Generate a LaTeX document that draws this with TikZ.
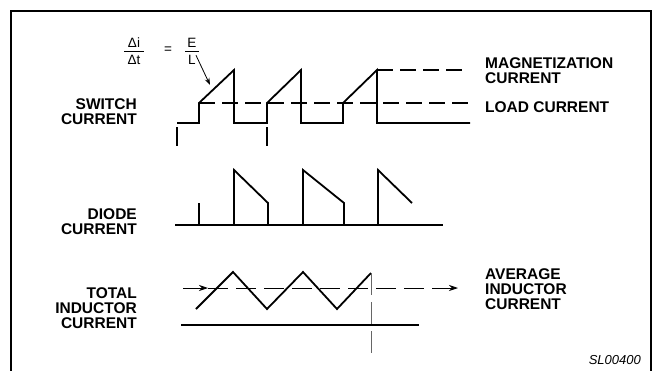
\documentclass[tikz,border=0pt]{standalone}
\usepackage{fontspec}
\setmainfont{Liberation Sans}
\usetikzlibrary{arrows.meta,positioning}

\begin{document}
\begin{tikzpicture}[x=1pt,y=-1pt,line join=miter,
    wave/.style={line width=1.8pt},
    dashwave/.style={line width=1.8pt,dash pattern=on 16pt off 7pt},
    thinline/.style={line width=0.8pt},
    lbl/.style={font=\bfseries\fontsize{15.5}{15}\selectfont,inner sep=0pt},
    eq/.style={font=\fontsize{13.5}{14}\selectfont,inner sep=0pt}]
  \useasboundingbox (0,0) rectangle (654,370);
  % frame, open at the bottom
  \draw[line width=2pt] (11,372) |- (651,11) -- (651,372);

  % labels on the left
  \node[lbl,align=right,anchor=east] (sw) at (137,112) {SWITCH\\CURRENT};
  \node[lbl,align=right,anchor=east] (di) at (137,222) {DIODE\\CURRENT};
  \node[lbl,align=right,anchor=east] (ind) at (137,308) {TOTAL\\INDUCTOR\\CURRENT};
  % labels on the right
  \node[lbl,align=left,anchor=west] (mag) at (485,71) {MAGNETIZATION\\CURRENT};
  \node[lbl,anchor=west] (load) at (485,107) {LOAD CURRENT};
  \node[lbl,align=left,anchor=west] (avg) at (485,289) {AVERAGE\\INDUCTOR\\CURRENT};
  \node[inner sep=0pt,anchor=east,font=\itshape\fontsize{13}{14}\selectfont] (ref) at (641,360) {SL00400};

  % slope equation
  \node[eq] (dI) at (134,43) {Δi};
  \node[eq] (dT) at (134,60) {Δt};
  \node[eq] (eqs) at (168,50) {=};
  \node[eq] (E) at (192,43) {E};
  \node[eq] (L) at (192,60) {L};
  \draw[thinline] (124,51) -- (144,51);
  \draw[thinline] (185,51) -- (199,51);
  \coordinate (slope) at (210,85);
  \draw[thinline,-{Stealth[length=7pt,width=5pt]}] (L.north east) -- (slope);

  % switch current
  \draw[dashwave] (199,103) -- (468,103);
  \draw[dashwave] (377,70) -- (468,70);
  \draw[wave] (177,123) -- (199,123) -- (199,103) -- (234,70) -- (234,123)
    -- (267,123) -- (267,103) -- (301,70) -- (301,123)
    -- (343,123) -- (343,103) -- (377,70) -- (377,123) -- (470,123);
  \draw[wave] (177,127) -- (177,146);
  \draw[wave] (267,127) -- (267,146);

  % diode current
  \draw[wave] (175,225) -- (443,225);
  \draw[wave] (199,225) -- (199,203);
  \draw[wave] (234,225) -- (234,170) -- (268,203) -- (268,225);
  \draw[wave] (303,225) -- (303,170) -- (344,203) -- (344,225);
  \draw[wave] (378,225) -- (378,170) -- (412,203);

  % total inductor current
  \draw[wave] (196,309) -- (233,272) -- (267,309) -- (303,272) -- (337,309) -- (371,273);
  \draw[wave] (181,325) -- (419,325);
  \coordinate (a0) at (183,288);
  \coordinate (a1) at (208,288);
  \coordinate (a2) at (458,288);
  \draw[thinline,-{Stealth[length=9pt,width=6pt]}] (a0) -- (a1);
  \draw[thinline,dash pattern=on 20pt off 8pt,-{Stealth[length=9pt,width=6pt]}] (a1) -- (a2);
  \draw[thinline,black!60,dash pattern=on 22pt off 7pt] (371,273) -- (371,353);
\end{tikzpicture}
\end{document}
